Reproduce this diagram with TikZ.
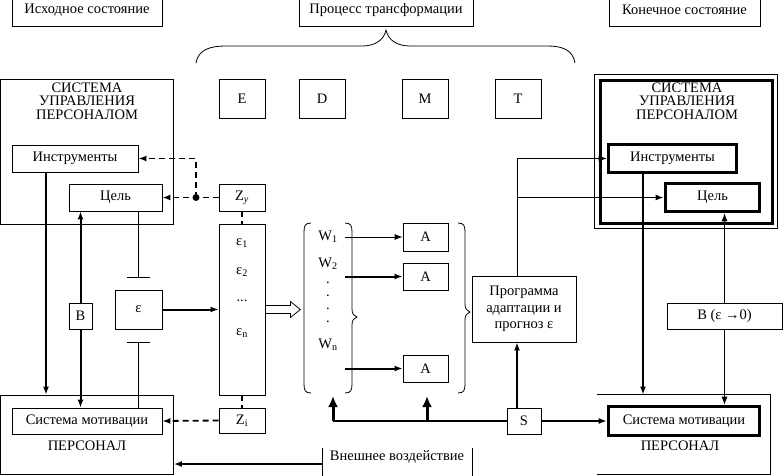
\documentclass[tikz,border=0pt]{standalone}
\usepackage{fontspec}
\setmainfont{Liberation Serif}
\usetikzlibrary{arrows.meta,calc}
\newcommand\dfs{\fontsize{14.5}{13.5}\selectfont}
\begin{document}
\begin{tikzpicture}[x=1pt,y=-1pt,
  box/.style={draw,line width=0.8pt,inner sep=0pt,font=\dfs,align=center},
  bbox/.style={box,line width=2.6pt},
  lbl/.style={font=\dfs,inner sep=0pt,align=center},
  thk/.style={line width=2pt},
  arr/.style={-{Latex[length=8pt,width=6pt]}},
  arrU/.style={-{Latex[length=11pt,width=10pt]}},
  dsh/.style={line width=1.8pt,dash pattern=on 6pt off 4pt},
  every path/.style={line width=0.8pt}]
\useasboundingbox (0,0) rectangle (783,475);

% header boxes
\node[box,minimum width=150pt,minimum height=32pt] (hs) at (87,10) {Исходное состояние};
\node[box,minimum width=174pt,minimum height=32pt] (pt) at (386,10) {Процесс трансформации};
\node[box,minimum width=151pt,minimum height=32pt] (ks) at (684.5,10) {Конечное состояние};

% top brace
\draw (196,63) .. controls (198,50) and (210,46) .. (225,46) -- (362,46)
  .. controls (375,46) and (384,40) .. (386,30)
  .. controls (388,40) and (397,46) .. (410,46) -- (548,46)
  .. controls (562,46) and (573,50) .. (575,63);

% E D M T
\node[box,minimum width=46pt,minimum height=39pt] (E) at (242,98.5) {Е};
\node[box,minimum width=46pt,minimum height=39pt] (D) at (322,98.5) {D};
\node[box,minimum width=46pt,minimum height=39pt] (M) at (425,98.5) {M};
\node[box,minimum width=46pt,minimum height=39pt] (T) at (518,98.5) {T};

% left system
\node[box,minimum width=173pt,minimum height=145pt] (sysL) at (87,151.5) {};
\node[lbl] (tL) at (87,101) {СИСТЕМА\\УПРАВЛЕНИЯ\\ПЕРСОНАЛОМ};
\node[box,minimum width=126pt,minimum height=27pt] (instrL) at (75,158.5) {Инструменты};
\node[box,minimum width=93pt,minimum height=27pt] (celL) at (115.5,197.5) {Цель};

\node[box,minimum width=46pt,minimum height=27pt] (Zy) at (242,197.5) {Z\textsubscript{\itshape y}};
\node[box,minimum width=46pt,minimum height=171pt] (col) at (242,309.5) {};
\node[lbl] (e1) at (242,243) {ε\textsubscript{1}};
\node[lbl] (e2) at (242,272) {ε\textsubscript{2}};
\node[lbl] (e3) at (242,301) {...};
\node[lbl] (en) at (242,333) {ε\textsubscript{n}};
\node[box,minimum width=46pt,minimum height=25pt] (Zi) at (242,420.5) {Z\textsubscript{i}};

\node[box,minimum width=47pt,minimum height=39pt] (eps) at (138.5,309.5) {ε};
\node[box,minimum width=23pt,minimum height=26pt] (B) at (80.5,316) {В};

% left personnel
\node[box,minimum width=173pt,minimum height=79pt] (persL) at (87,434.5) {};
\node[box,minimum width=150pt,minimum height=26pt] (motL) at (87,421) {Система мотивации};
\node[lbl] (pLt) at (87,446) {ПЕРСОНАЛ};

% dashed links
\node[circle,fill,inner sep=0pt,minimum size=7pt] (dot) at (196,197.5) {};
\draw[dsh,arr] (Zy.west) -- (celL.east);
\draw[dsh,arr] (dot.center) -- (dot |- instrL.east) -- (instrL.east);
\draw[dsh] (Zy.south) -- (col.north);
\draw[dsh] (col.south) -- (Zi.north);
\draw[dsh,arr] (Zi.west) -- (motL.east);

% left verticals
\coordinate (x46) at (46,0);
\coordinate (tb1) at (138.5,277);
\coordinate (tb2) at (138.5,342);
\draw[thk,arr] (instrL.south -| x46) -- (persL.north -| x46);
\draw[thk,arr] (B.north) -- (celL.south -| B.north);
\draw[thk,arr] (B.south) -- (motL.north -| B.south);
\draw (celL.south -| tb1) -- (tb1);
\draw ($(tb1)+(-11.5,0)$) -- ($(tb1)+(11.5,0)$);
\draw ($(tb2)+(-11.5,0)$) -- ($(tb2)+(11.5,0)$);
\draw (tb2) -- (motL.north -| tb2);
\draw[thk,arr] (eps.east) -- (eps.east -| col.west);

% hollow arrow
\draw ($(col.east)+(0,-4)$) -- ++(25,0) -- ++(0,-4) -- ++(10,8) -- ++(-10,8) -- ++(0,-4) -- ++(-25,0);

% W group
\draw (311,223) .. controls (305,223) and (304,226) .. (304,232) -- (304,384) .. controls (304,390) and (305,393) .. (311,393);
\draw (345,223) .. controls (351,223) and (352,226) .. (352,232) -- (352,309)
  .. controls (352,314) and (354,316) .. (357,317)
  .. controls (354,318) and (352,320) .. (352,325) -- (352,384)
  .. controls (352,390) and (351,393) .. (345,393);
\node[lbl] (w1) at (328,237) {W\textsubscript{1}};
\node[lbl] (w2) at (328,264) {W\textsubscript{2}};
\node[lbl] (wd1) at (328,283) {.};
\node[lbl] (wd2) at (328,296) {.};
\node[lbl] (wd3) at (328,309) {.};
\node[lbl] (wd4) at (328,322) {.};
\node[lbl] (wn) at (328,345) {W\textsubscript{n}};

\node[box,minimum width=45pt,minimum height=28pt] (A1) at (425.5,237) {A};
\node[box,minimum width=45pt,minimum height=27pt] (A2) at (425.5,276.5) {A};
\node[box,minimum width=45pt,minimum height=27pt] (A3) at (425.5,368.5) {A};
\coordinate (a1) at (345,237);
\coordinate (a2) at (345,276.5);
\coordinate (a3) at (345,368.5);
\draw[arr] (a1) -- (A1.west);
\draw[thk,arr] (a2) -- (A2.west);
\draw[thk,arr] (a3) -- (A3.west);

% A brace
\draw (458,223) .. controls (464,223) and (465,226) .. (465,232) -- (465,304)
  .. controls (465,309) and (467,311) .. (470,312)
  .. controls (467,313) and (465,315) .. (465,320) -- (465,384)
  .. controls (465,390) and (464,393) .. (458,393);

% program
\node[box,minimum width=104pt,minimum height=66pt] (prog) at (524,309) {Программа\\[3pt]адаптации и\\[3pt]прогноз ε};
\node[box,minimum width=34pt,minimum height=26pt] (S) at (524,421) {S};
\coordinate (u1) at (333,421);
\coordinate (u2) at (427,421);
\coordinate (br1) at (333,396);
\coordinate (br2) at (427,396);
\draw[line width=2.6pt] (S.west) -- (u1);
\draw[line width=3pt,arrU] (u1) -- (br1);
\draw[line width=3pt,arrU] (u2) -- (br2);

% external
\node[lbl] (vn) at (397,457) {Внешнее воздействие};
\draw (322,448) -- (322,478);
\draw (472,448) -- (472,478);
\coordinate (vnl) at (322,464);
\draw[thk,arr] (vnl) -- (persL.east |- vnl);

% right system
\node[draw,line width=3pt,minimum width=172pt,minimum height=143pt,inner sep=0pt] (sysR) at (686,151.5) {};
\draw ([shift={(-4,-4)}]sysR.north west) rectangle ([shift={(4,4)}]sysR.south east);
\node[lbl] (tR) at (687,101) {СИСТЕМА\\УПРАВЛЕНИЯ\\ПЕРСОНАЛОМ};
\node[bbox,minimum width=129pt,minimum height=29pt] (instrR) at (672.5,158.5) {Инструменты};
\draw ([shift={(3,3)}]instrR.north west) rectangle ([shift={(-3,-3)}]instrR.south east);
\node[bbox,minimum width=95pt,minimum height=29pt] (celR) at (712.5,197.5) {Цель};
\draw ([shift={(3,3)}]celR.north west) rectangle ([shift={(-3,-3)}]celR.south east);

\node[box,minimum width=115pt,minimum height=26pt] (Bright) at (724.5,316) {В (ε →0)};

% right personnel
\node[inner sep=0pt,minimum width=173pt,minimum height=79pt] (persR) at (683.5,434.5) {};
\draw (persR.north west) -- (persR.north east) -- (persR.south east) -- (persR.south west);
\node[bbox,minimum width=152pt,minimum height=30pt] (motR) at (684,421) {Система мотивации};
\draw ([shift={(3,3)}]motR.north west) rectangle ([shift={(-3,-3)}]motR.south east);
\node[lbl] (pRt) at (680,446) {ПЕРСОНАЛ};

% right connectors
\coordinate (x517) at (517,0);
\coordinate (x643) at (643,0);
\draw[thk,arr] (S.north -| x517) -- (prog.south -| x517);
\draw[arr] (prog.north -| x517) -- (x517 |- instrR.west) -- (instrR.west);
\draw[line width=1.5pt,arr] (x517 |- celR.west) -- (celR.west);
\draw[thk,arr] (instrR.south -| x643) -- (persR.north -| x643);
\draw[arr] (Bright.north) -- (celR.south -| Bright.north);
\draw[arr] (Bright.south) -- (motR.north -| Bright.south);
\draw[line width=1.5pt,arr] (S.east) -- (motR.west);
\end{tikzpicture}
\end{document}
